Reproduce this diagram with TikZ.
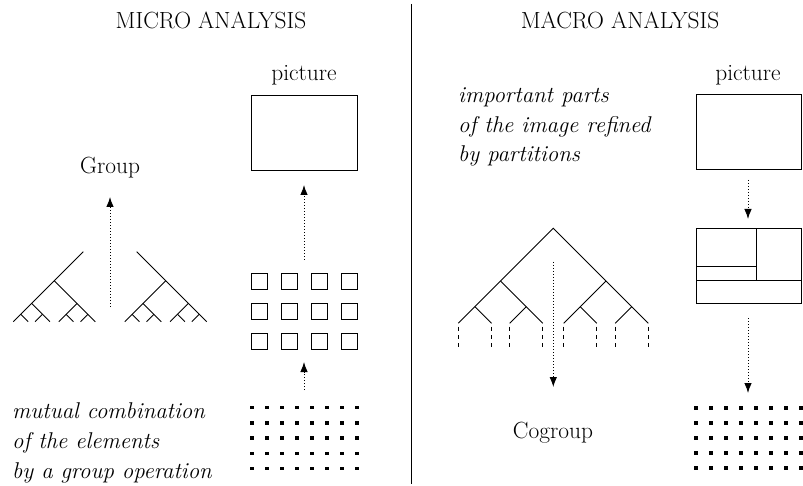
\documentclass[tikz,border=0pt]{standalone}
\usetikzlibrary{arrows.meta}
\begin{document}
\begin{tikzpicture}[x=1pt,y=-1pt,
  lw/.style={line width=0.9pt},
  dotarrow/.style={line width=0.9pt, dash pattern=on 1.2pt off 1.8pt, -{Latex[length=10pt,width=7.5pt]}},
  leafdash/.style={line width=0.9pt, dash pattern=on 4pt off 4.3pt},
  framebox/.style={draw, line width=0.9pt, minimum width=105pt, minimum height=75pt, inner sep=0pt},
  sq/.style={draw, line width=0.9pt, minimum size=16pt, inner sep=0pt},
  dotsq/.style={fill, minimum size=3.4pt, inner sep=0pt},
  lbl/.style={font=\fontsize{23.4}{30}\selectfont},
  itl/.style={font=\fontsize{22.8}{29.8}\selectfont\itshape, align=left, inner sep=0pt}
]
\useasboundingbox (0,0) rectangle (803,486);

% titles and divider
\node[lbl] (tmicro) at (211,20) {MICRO ANALYSIS};
\node[lbl] (tmacro) at (620,20) {MACRO ANALYSIS};
\coordinate (dtop) at (411,4);
\coordinate (dbot) at (411,484);
\draw[lw] (dtop) -- (dbot);

% ---------- MICRO side ----------
\node[lbl] (picLlbl) at (304,75) {picture};
\node[framebox, minimum width=106pt] (picL) at (304,132.5) {};
\foreach \i in {0,...,3}
  \foreach \j in {0,...,2}
    \node[sq] (s\i\j) at (259+30*\i, 281+30*\j) {};
\foreach \i in {0,...,7}
  \foreach \j in {0,...,4}
    \node[dotsq] (dl\i\j) at (252+15*\i, 407.5+15.3*\j) {};
\coordinate (aLs1) at (304,260);
\coordinate (aLt1) at (304,185);
\draw[dotarrow] (aLs1) -- (aLt1);
\coordinate (aLs2) at (304,390);
\coordinate (aLt2) at (304,362);
\draw[dotarrow] (aLs2) -- (aLt2);

\node[lbl] (group) at (110,168) {Group};
\coordinate (gs) at (110,307);
\coordinate (gt) at (110,197);
\draw[dotarrow] (gs) -- (gt);

\foreach \s/\sh in {1/0, -1/220}{
\begin{scope}[xshift=\sh pt, xscale=\s]
  \draw[lw] (83.3,251.7) -- (13.3,321.7);
  \draw[lw] (54.3,280.7) -- (95.3,321.7);
  \draw[lw] (31.6,303.4) -- (49.9,321.7);
  \draw[lw] (77.0,303.4) -- (58.7,321.7);
  \draw[lw] (20.7,314.3) -- (28.1,321.7);
  \draw[lw] (42.5,314.3) -- (35.1,321.7);
  \draw[lw] (66.1,314.3) -- (73.5,321.7);
  \draw[lw] (87.9,314.3) -- (80.5,321.7);
\end{scope}
}

\node[itl, anchor=west] (mutual) at (12,443) {mutual combination\\of the elements\\by a group operation};

% ---------- MACRO side ----------
\node[lbl] (picRlbl) at (748,75) {picture};
\node[framebox] (picR) at (748.5,131.5) {};
\node[framebox] (part) at (748.5,265.8) {};
\coordinate (pv1) at (756,228.3);
\coordinate (pv2) at (756,280.7);
\coordinate (ph1) at (696,280.7);
\coordinate (ph2) at (801,280.7);
\coordinate (ph3) at (696,266);
\coordinate (ph4) at (756,266);
\draw[lw] (pv1) -- (pv2);
\draw[lw] (ph1) -- (ph2);
\draw[lw] (ph3) -- (ph4);
\foreach \i in {0,...,7}
  \foreach \j in {0,...,4}
    \node[dotsq] (dr\i\j) at (696+15*\i, 408+15*\j) {};
\coordinate (aRs1) at (748,180);
\coordinate (aRt1) at (748,219);
\draw[dotarrow] (aRs1) -- (aRt1);
\coordinate (aRs2) at (748,318);
\coordinate (aRt2) at (748,393);
\draw[dotarrow] (aRs2) -- (aRt2);

\node[itl, anchor=west] (important) at (458,127) {important parts\\of the image refined\\by partitions};

% cogroup tree
\draw[lw] (458.3,323.3) -- (553.3,228.3) -- (648.3,323.3);
\draw[lw] (500.6,281) -- (542.9,323.3);
\draw[lw] (606,281) -- (563.7,323.3);
\draw[lw] (474.9,306.7) -- (491.5,323.3);
\draw[lw] (526.3,306.7) -- (509.7,323.3);
\draw[lw] (580.3,306.7) -- (596.9,323.3);
\draw[lw] (631.7,306.7) -- (615.1,323.3);
\foreach \x in {458.3,491.5,509.7,542.9,563.7,596.9,615.1,648.3}
  \draw[leafdash] (\x,326.7) -- (\x,347.5);
\coordinate (cs) at (553.3,262);
\coordinate (ct) at (553.3,387);
\draw[dotarrow] (cs) -- (ct);
\node[lbl] (cogroup) at (553,433) {Cogroup};
\end{tikzpicture}
\end{document}
